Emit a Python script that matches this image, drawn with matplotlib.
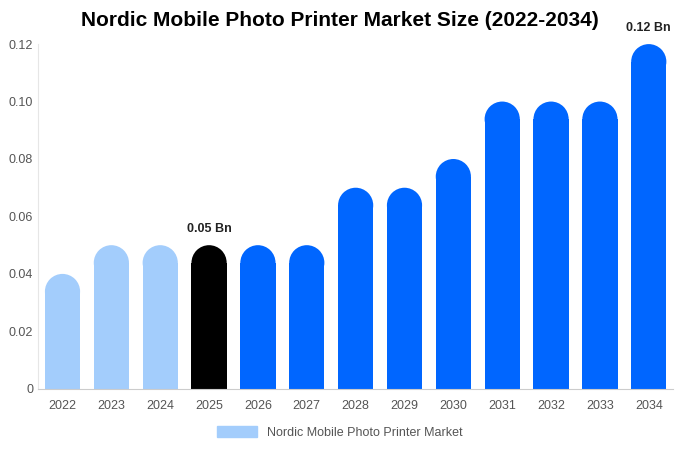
import matplotlib
matplotlib.use("Agg")
import matplotlib.pyplot as plt
from matplotlib.patches import Ellipse, Patch

years = ["2022","2023","2024","2025","2026","2027","2028","2029","2030","2031","2032","2033","2034"]
values = [0.04,0.05,0.05,0.05,0.05,0.05,0.07,0.07,0.08,0.10,0.10,0.10,0.12]
colors = ["#a3cdfc"]*3 + ["#000000"] + ["#0066ff"]*9
labels = {3: "0.05 Bn", 12: "0.12 Bn"}

plt.rcParams['font.family'] = ['Liberation Sans', 'DejaVu Sans']
fig = plt.figure(figsize=(6.8, 4.5), dpi=100)
ax = fig.add_axes([0.056, 0.136, 0.934, 0.766])
ax.set_xlim(-0.5, 12.5)
ax.set_ylim(0, 0.12)
W = 0.72
# radius in y data units matching half bar width in pixels
px_per_x = fig.get_figwidth()*fig.dpi*0.934/13
px_per_y = fig.get_figheight()*fig.dpi*0.766/0.12
ry = (W/2)*px_per_x/px_per_y
for i, (v, c) in enumerate(zip(values, colors)):
    ax.bar(i, v-ry, width=W, color=c, linewidth=0)
    ax.add_patch(Ellipse((i, v-ry), W, 2*ry, color=c, linewidth=0))
    if i in labels:
        ax.text(i, v+0.0035, labels[i], ha='center', va='bottom', fontsize=9, fontweight='bold', color='#222222')
ax.set_xticks(range(len(years)))
ax.set_xticklabels(years)
ax.set_yticks([0,0.02,0.04,0.06,0.08,0.10,0.12])
ax.set_yticklabels(["0","0.02","0.04","0.06","0.08","0.10","0.12"])
ax.tick_params(axis='both', length=0, labelsize=9, colors='#555555')
ax.tick_params(axis='x', pad=8)
for s in ['top','right']:
    ax.spines[s].set_visible(False)
ax.spines['left'].set_color('#e6e6e6')
ax.spines['bottom'].set_color('#cccccc')
fig.suptitle("Nordic Mobile Photo Printer Market Size (2022-2034)", fontsize=15, fontweight='bold', y=0.975)
fig.legend(handles=[Patch(color="#a3cdfc", label="Nordic Mobile Photo Printer Market")],
           loc='lower center', bbox_to_anchor=(0.5, 0.0), frameon=False, fontsize=9,
           labelcolor='#555555', handlelength=3.2, handleheight=1.0)
fig.savefig("out.png", dpi=100)
